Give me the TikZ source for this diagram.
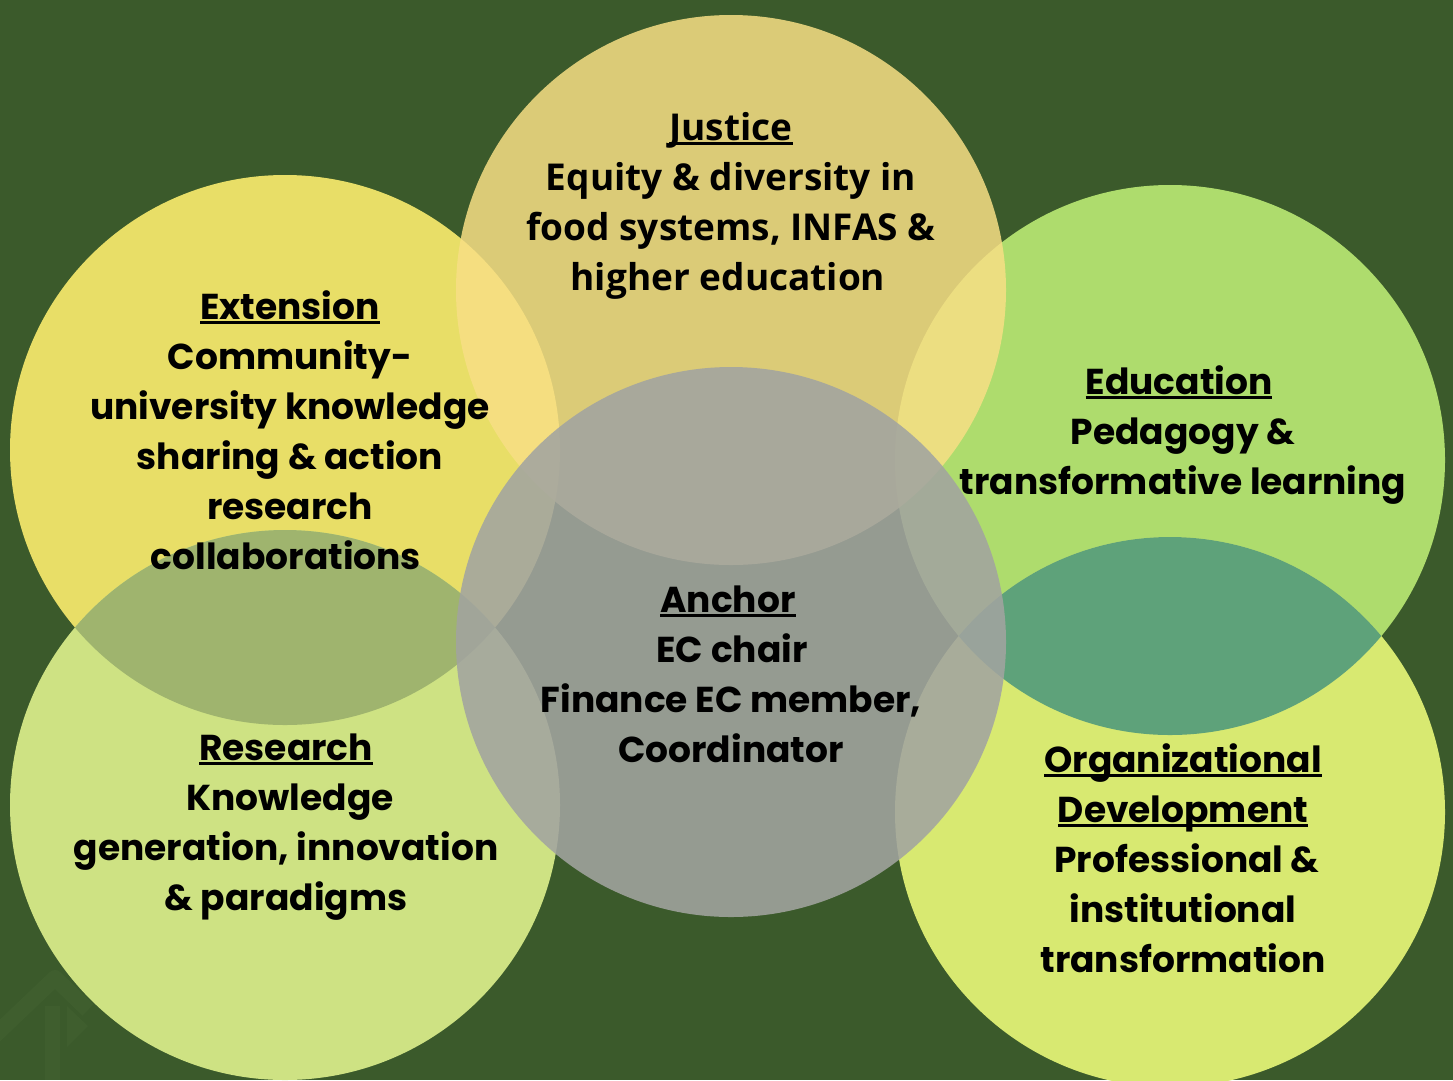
\documentclass[tikz,border=0pt]{standalone}
\usepackage{fontspec}
\setmainfont{Poppins}
\newfontfamily\justfont{Open Sans}
\definecolor{bgc}{HTML}{3B5A2B}
\definecolor{extc}{HTML}{E8DE67}
\definecolor{resc}{HTML}{CEE283}
\definecolor{educ}{HTML}{AEDC6D}
\definecolor{orgc}{HTML}{D8E971}
\definecolor{lensL}{HTML}{9FB46E}
\definecolor{lensR}{HTML}{5EA27A}
\definecolor{jusc}{RGB}{248,223,133}
\definecolor{ancc}{RGB}{162,164,160}
\definecolor{wmc}{HTML}{3F5E2E}
\newcommand\myul[1]{\setbox0\hbox{#1}\rlap{\rule[-5pt]{\wd0}{2.6pt}}\box0}
\begin{document}
\begin{tikzpicture}[x=1pt,y=-1pt,
  txt/.style={anchor=base,inner sep=0pt,font=\bfseries\fontsize{36}{50}\selectfont},
  jtxt/.style={anchor=base,inner sep=0pt,font=\justfont\bfseries\fontsize{37}{50}\selectfont},
  wm/.style={wmc}]
\useasboundingbox (0,0) rectangle (1453,1080);
\fill[bgc] (0,0) rectangle (1453,1080);
% watermark
\draw[wm,line width=16pt,line join=round] (-10,1040) -- (55,978) -- (88,1010);
\fill[wm] (45,1006) rectangle (60,1080);
\fill[wm] (67,1006) -- (88,1026) -- (67,1047) -- cycle;
\draw[wm,line width=14pt] (85,1085) arc[start angle=180,end angle=110,radius=45];
% base circles
\coordinate (cJ) at (731,290);
\coordinate (cA) at (731,642);
\coordinate (cX) at (285,450);
\coordinate (cR) at (285,805);
\coordinate (cE) at (1170,460);
\coordinate (cO) at (1170,812);
\fill[extc] (cX) circle[radius=275];
\fill[resc] (cR) circle[radius=275];
\fill[educ] (cE) circle[radius=275];
\fill[orgc] (cO) circle[radius=275];
\begin{scope}
  \clip (cX) circle[radius=275];
  \fill[lensL] (cR) circle[radius=275];
\end{scope}
\begin{scope}
  \clip (cE) circle[radius=275];
  \fill[lensR] (cO) circle[radius=275];
\end{scope}
\fill[jusc,opacity=0.85] (cJ) circle[radius=275];
\fill[ancc,opacity=0.88] (cA) circle[radius=275];
% Justice
\node[jtxt] (j1) at (731,140) {\myul{Justice}};
\node[jtxt] (j2) at (731,190) {Equity \& diversity in};
\node[jtxt] (j3) at (731,240) {food systems, INFAS \&};
\node[jtxt] (j4) at (728,290) {higher education};
% Extension
\node[txt] (x1) at (290,319) {\myul{Extension}};
\node[txt] (x2) at (290,369) {Community-};
\node[txt] (x3) at (290,419) {university knowledge};
\node[txt] (x4) at (290,469) {sharing \& action};
\node[txt] (x5) at (290,519) {research};
\node[txt] (x6) at (286,569) {collaborations};
% Education
\node[txt] (e1) at (1179,394) {\myul{Education}};
\node[txt] (e2) at (1183,444) {Pedagogy \&};
\node[txt] (e3) at (1183,494) {transformative learning};
% Anchor
\node[txt] (a1) at (728,612) {\myul{Anchor}};
\node[txt] (a2) at (732,662) {EC chair};
\node[txt] (a3) at (731,712) {Finance EC member,};
\node[txt] (a4) at (731,762) {Coordinator};
% Research
\node[txt] (r1) at (286,760) {\myul{Research}};
\node[txt] (r2) at (290,810) {Knowledge};
\node[txt] (r3) at (286,860) {generation, innovation};
\node[txt] (r4) at (286,910) {\& paradigms};
% Organizational
\node[txt] (o1) at (1183,772) {\myul{Organizational}};
\node[txt] (o2) at (1183,822) {\myul{Development}};
\node[txt] (o3) at (1187,872) {Professional \&};
\node[txt] (o4) at (1183,922) {institutional};
\node[txt] (o5) at (1183,972) {transformation};
\end{tikzpicture}
\end{document}
